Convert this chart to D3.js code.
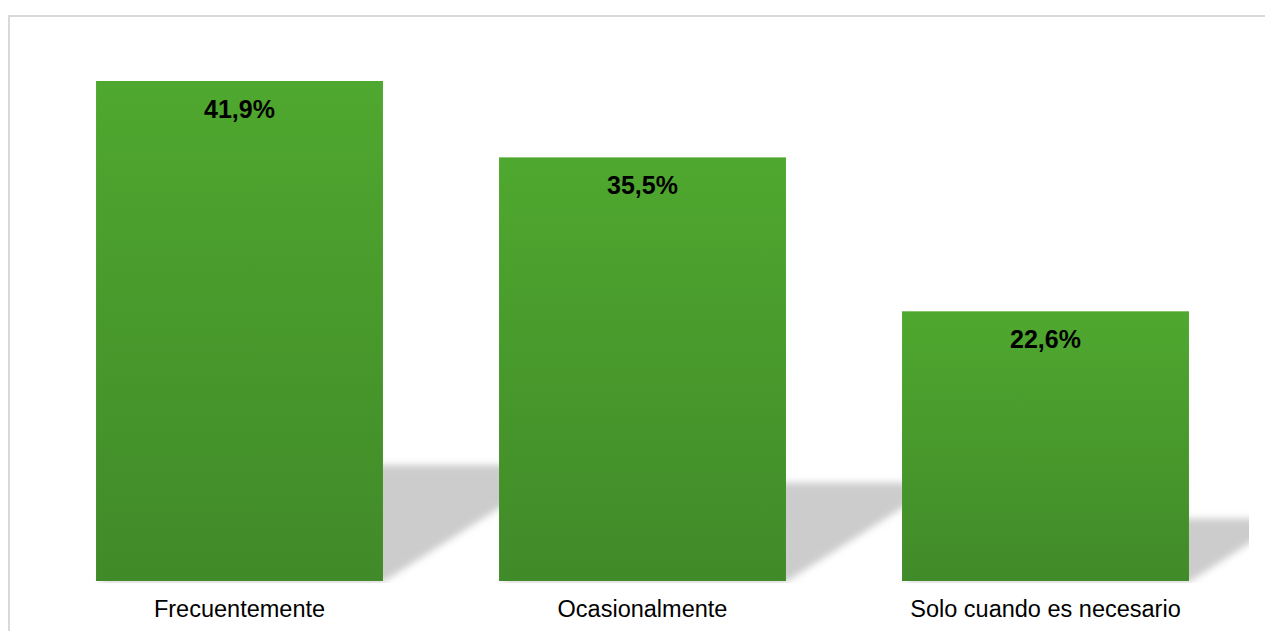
<!DOCTYPE html>
<html>
<head>
<meta charset="utf-8">
<script src="https://cdn.jsdelivr.net/npm/d3@7/dist/d3.min.js"></script>
<style>
  html, body { margin: 0; padding: 0; background: #fff; }
  svg { display: block; }
</style>
</head>
<body>
<svg id="chart" width="1265" height="631"></svg>
<script>
const categories = ["Frecuentemente", "Ocasionalmente", "Solo cuando es necesario"];
const values = [41.9, 35.5, 22.6];
const valueLabels = ["41,9%", "35,5%", "22,6%"];
const yMax = 41.9;

const W = 1265, H = 631;
const svg = d3.select("#chart");
const defs = svg.append("defs");

const grad = defs.append("linearGradient").attr("id", "barGrad")
  .attr("x1", 0).attr("y1", 0).attr("x2", 0).attr("y2", 1);
grad.append("stop").attr("offset", "0%").attr("stop-color", "#4fa82f");
grad.append("stop").attr("offset", "100%").attr("stop-color", "#418a29");

const blur = defs.append("filter").attr("id", "shadowBlur")
  .attr("x", "-20%").attr("y", "-20%").attr("width", "140%").attr("height", "140%");
blur.append("feGaussianBlur").attr("stdDeviation", 3.5);

defs.append("clipPath").attr("id", "plotClip")
  .append("rect").attr("x", 0).attr("y", 0).attr("width", 1249).attr("height", 583);

// chart frame
svg.append("rect")
  .attr("x", 9).attr("y", 16).attr("width", 1400).attr("height", 800)
  .attr("fill", "none").attr("stroke", "#d9d9d9").attr("stroke-width", 2);

const x = d3.scaleBand().domain(categories).range([38, 1247])
  .paddingInner(0.288).paddingOuter(0.144);
const y = d3.scaleLinear().domain([0, yMax]).range([581, 81]);

const data = categories.map((c, i) => ({ c, v: values[i], label: valueLabels[i] }));

// perspective shadows
const shadowG = svg.append("g").attr("clip-path", "url(#plotClip)")
  .append("g").attr("filter", "url(#shadowBlur)");
shadowG.selectAll("path").data(data).enter().append("path")
  .attr("fill", "#cccccc")
  .attr("d", d => {
    const x0 = x(d.c), x1 = x(d.c) + x.bandwidth();
    const b = y(0);
    const hs = (y(0) - y(d.v)) * 0.232;
    const dx = hs / 0.63;
    return `M${x0},${b + 1}L${x1},${b + 1}L${x1 + dx},${b - hs}L${x0 + dx},${b - hs}Z`;
  });

// bars
svg.append("g").selectAll("rect").data(data).enter().append("rect")
  .attr("x", d => x(d.c))
  .attr("y", d => y(d.v))
  .attr("width", x.bandwidth())
  .attr("height", d => y(0) - y(d.v))
  .attr("fill", "url(#barGrad)");

// value labels
svg.append("g").selectAll("text").data(data).enter().append("text")
  .attr("x", d => x(d.c) + x.bandwidth() / 2)
  .attr("y", d => y(d.v) + 37)
  .attr("text-anchor", "middle")
  .attr("font-family", "Liberation Sans, Arial, sans-serif")
  .attr("font-weight", "bold")
  .attr("font-size", 25)
  .attr("fill", "#000")
  .text(d => d.label);

// category axis labels
const xAxis = d3.axisBottom(x).tickSize(0).tickPadding(0);
const axG = svg.append("g").attr("transform", `translate(0,${y(0)})`).call(xAxis);
axG.select(".domain").remove();
axG.selectAll("text")
  .attr("y", 36)
  .attr("dy", 0)
  .attr("font-family", "Liberation Sans, Arial, sans-serif")
  .attr("font-size", 23.5)
  .attr("fill", "#000");
</script>
</body>
</html>
